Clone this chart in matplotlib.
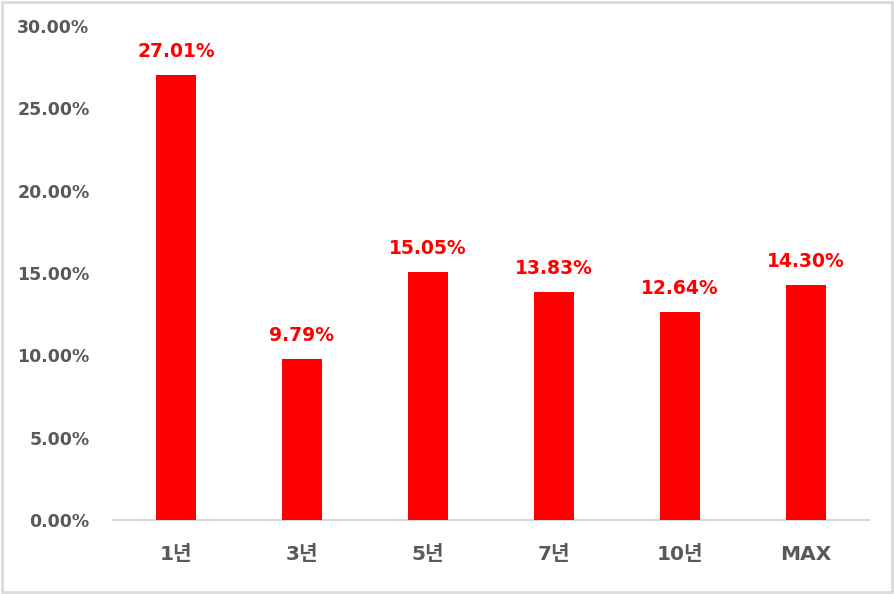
import matplotlib
matplotlib.use("Agg")
import matplotlib.pyplot as plt
from matplotlib.patches import Rectangle

plt.rcParams['font.family'] = ['DejaVu Sans', 'Noto Sans CJK KR']

categories = ['1년', '3년', '5년', '7년', '10년', 'MAX']
values = [27.01, 9.79, 15.05, 13.83, 12.64, 14.30]
yticks = [0, 5, 10, 15, 20, 25, 30]

fig = plt.figure(figsize=(8.94, 5.94), dpi=100)
ax = fig.add_axes([113/894, (594-520)/594, (869-113)/894, (520-26)/594])

x = list(range(len(categories)))
bars = ax.bar(x, values, width=0.31, color='#ff0000', zorder=3)
for xi, v in zip(x, values):
    ax.annotate(f'{v:.2f}%', (xi, v), xytext=(0, 10), textcoords='offset points',
                ha='center', va='bottom', color='#ff0000', fontsize=13.5, fontweight='bold')

ax.set_xlim(-0.5, len(categories) - 0.5)
ax.set_ylim(0, 30)
ax.set_yticks(yticks)
ax.set_yticklabels([f'{t:.2f}%' for t in yticks])
ax.set_xticks(x)
ax.set_xticklabels(categories)

for s in ['top', 'right', 'left']:
    ax.spines[s].set_visible(False)
ax.spines['bottom'].set_color('#d9d9d9')
ax.spines['bottom'].set_linewidth(1.5)
ax.tick_params(axis='both', length=0, colors='#595959', labelsize=12.5)
ax.tick_params(axis='y', pad=17)
ax.tick_params(axis='x', pad=18)
for lbl in ax.get_yticklabels():
    lbl.set_fontweight('bold')
    lbl.set_color('#595959')
for lbl in ax.get_xticklabels():
    lbl.set_fontweight('bold')
    lbl.set_color('#595959')
    lbl.set_fontsize(14.5)

fig.patches.append(Rectangle((0.002, 0.003), 0.996, 0.994, transform=fig.transFigure,
                             fill=False, edgecolor='#d9d9d9', linewidth=2))

fig.savefig('out.png', dpi=100)
